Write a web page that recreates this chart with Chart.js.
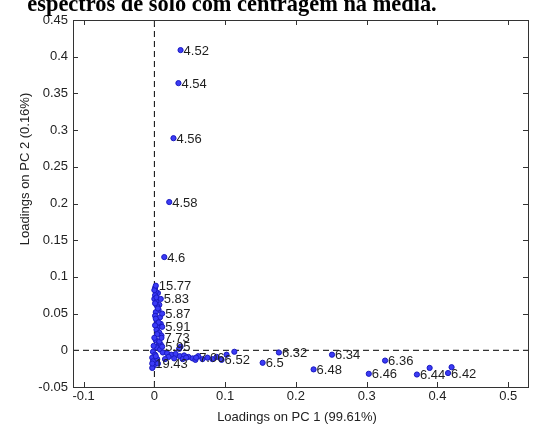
<!DOCTYPE html>
<html>
<head>
<meta charset="utf-8">
<script src="https://cdn.jsdelivr.net/npm/chart.js@4.4.0/dist/chart.umd.min.js"></script>
<style>
  html, body { margin: 0; padding: 0; background: #fff; }
  #wrap { position: relative; width: 533px; height: 426px; }
</style>
</head>
<body>
<div id="wrap"><canvas id="loadings-chart"></canvas></div>
<script>
// 제목과 축 라벨
const titleText = 'espectros de solo com centragem na média.';
const xTitle = 'Loadings on PC 1 (99.61%)';
const yTitle = 'Loadings on PC 2 (0.16%)';

// 눈금
const xTicks = [-0.1, 0, 0.1, 0.2, 0.3, 0.4, 0.5];
const yTicks = [-0.05, 0, 0.05, 0.1, 0.15, 0.2, 0.25, 0.3, 0.35, 0.4, 0.45];

// 라벨이 붙은 점 (파장)
const labeledNames = ['4.52', '4.54', '4.56', '4.58', '4.6', '15.77', '5.83', '5.87', '5.91', '7.73', '5.95',
  '19.43', '7.06', '6.52', '6.5', '6.32', '6.48', '6.34', '6.46', '6.36', '6.44', '6.42'];
const labeledX = [0.037, 0.034, 0.027, 0.021, 0.014, 0.002, 0.009, 0.011, 0.011, 0.010, 0.011,
  -0.003, 0.059, 0.095, 0.153, 0.176, 0.225, 0.251, 0.303, 0.326, 0.371, 0.415];
const labeledY = [0.409, 0.364, 0.289, 0.202, 0.127, 0.088, 0.070, 0.050, 0.032, 0.017, 0.005,
  -0.018, -0.010, -0.013, -0.017, -0.003, -0.026, -0.006, -0.032, -0.014, -0.033, -0.031];

// 라벨 없는 점 (원점 근처 덩어리)
const clusterX = [0.001, 0.005, 0.002, 0.001, 0.000, 0.003, 0.007, 0.004, 0.006, 0.002, 0.001, 0.008,
  0.004, 0.009, 0.005, 0.003, 0.007, 0.010, 0.002, 0.006, 0.009, 0.003, 0.008, -0.002, 0.001, -0.003,
  0.004, -0.002, -0.001, -0.003, 0.037, 0.012, 0.018, 0.024, 0.030, 0.035, 0.036, 0.042, 0.048, 0.054,
  0.062, 0.068, 0.075, 0.082, 0.088, 0.020, 0.028, 0.015, 0.040, 0.102, 0.113, 0.389, 0.420,
  0.000, 0.003, 0.001, 0.005, 0.002, 0.006, 0.001, 0.004, 0.000, 0.007, -0.001, 0.002, 0.005, 0.045, 0.058];
const clusterY = [0.085, 0.078, 0.080, 0.075, 0.070, 0.066, 0.062, 0.060, 0.055, 0.052, 0.047, 0.045,
  0.040, 0.036, 0.031, 0.028, 0.024, 0.020, 0.014, 0.010, 0.008, 0.004, 0.001, -0.002, -0.006, -0.010,
  -0.012, -0.015, -0.021, -0.024, 0.005, -0.003, -0.004, -0.006, -0.005, 0.002, -0.008, -0.007, -0.009, -0.011,
  -0.008, -0.012, -0.010, -0.012, -0.009, -0.009, -0.011, -0.012, -0.012, -0.006, -0.002, -0.024, -0.023,
  0.082, 0.072, 0.064, 0.057, 0.043, 0.038, 0.034, 0.022, 0.017, 0.012, 0.006, -0.008, -0.018, -0.010, -0.013];

const xMin = -0.115, xMax = 0.528;
const yMin = -0.05, yMax = 0.45;

const pts = (xs, ys) => xs.map((x, i) => ({ x: x, y: ys[i] }));

// 점 옆에 파장 라벨 그리기
const pointLabelPlugin = {
  id: 'pointLabels',
  afterDatasetsDraw(chart) {
    const ctx = chart.ctx;
    const meta = chart.getDatasetMeta(0);
    ctx.save();
    ctx.font = '13px "Liberation Sans", Arial, sans-serif';
    ctx.fillStyle = '#1e1e1e';
    ctx.textAlign = 'left';
    ctx.textBaseline = 'middle';
    meta.data.forEach((pt, i) => {
      ctx.fillText(labeledNames[i], pt.x + 3, pt.y + 1);
    });
    ctx.restore();
  }
};

// 테두리, 안쪽 눈금, 제목
const framePlugin = {
  id: 'frame',
  afterDraw(chart) {
    const ctx = chart.ctx;
    const a = chart.chartArea;
    const xs = chart.scales.x, ys = chart.scales.y;
    ctx.save();
    ctx.strokeStyle = '#333';
    ctx.lineWidth = 1;
    ctx.strokeRect(Math.round(a.left) + 0.5, Math.round(a.top) + 0.5,
      Math.round(a.right - a.left), Math.round(a.bottom - a.top));
    ctx.beginPath();
    xTicks.forEach(v => {
      const px = Math.round(xs.getPixelForValue(v)) + 0.5;
      ctx.moveTo(px, a.bottom); ctx.lineTo(px, a.bottom - 5);
      ctx.moveTo(px, a.top); ctx.lineTo(px, a.top + 5);
    });
    yTicks.forEach(v => {
      const py = Math.round(ys.getPixelForValue(v)) + 0.5;
      ctx.moveTo(a.left, py); ctx.lineTo(a.left + 5, py);
      ctx.moveTo(a.right, py); ctx.lineTo(a.right - 5, py);
    });
    ctx.stroke();

    // 위쪽이 잘린 제목
    ctx.fillStyle = '#000';
    ctx.font = 'bold 22.4px "Liberation Serif", "Times New Roman", serif';
    ctx.textAlign = 'center';
    ctx.textBaseline = 'alphabetic';
    ctx.fillText(titleText, 232, 10.5);

    // 축 제목
    ctx.fillStyle = '#222';
    ctx.font = '13px "Liberation Sans", Arial, sans-serif';
    ctx.textBaseline = 'middle';
    ctx.fillText(xTitle, 297, 417);
    ctx.translate(25, 169);
    ctx.rotate(-Math.PI / 2);
    ctx.fillText(yTitle, 0, 0);
    ctx.restore();
  }
};

const tickFont = { family: '"Liberation Sans", Arial, sans-serif', size: 13 };
const fmt = v => String(Number(v.toFixed(2)));

const ctx = document.getElementById('loadings-chart').getContext('2d');
const chart = new Chart(ctx, {
  type: 'scatter',
  data: {
    datasets: [
      { data: pts(labeledX, labeledY), pointRadius: 2.6, backgroundColor: '#3b3bf5', borderColor: '#1a1ac0', borderWidth: 1 },
      { data: pts(clusterX, clusterY), pointRadius: 2.6, backgroundColor: '#3b3bf5', borderColor: '#1a1ac0', borderWidth: 1 },
      { data: [{ x: xMin, y: 0 }, { x: xMax, y: 0 }], showLine: true, pointRadius: 0, borderColor: '#000', borderWidth: 1, borderDash: [6, 4] },
      { data: [{ x: 0, y: yMin }, { x: 0, y: yMax }], showLine: true, pointRadius: 0, borderColor: '#000', borderWidth: 1, borderDash: [6, 4] }
    ]
  },
  options: {
    responsive: true,
    maintainAspectRatio: false,
    animation: false,
    layout: { padding: { top: 20, right: 1, left: 0, bottom: 0 } },
    plugins: {
      legend: { display: false },
      tooltip: { enabled: false }
    },
    scales: {
      x: {
        type: 'linear',
        min: xMin,
        max: xMax,
        grid: { display: false, drawTicks: false },
        border: { display: false },
        afterBuildTicks: (scale) => { scale.ticks = xTicks.map(v => ({ value: v })); },
        afterFit: (scale) => { scale.height = 39; },
        ticks: { color: '#222', font: tickFont, padding: 2, maxRotation: 0, callback: fmt }
      },
      y: {
        type: 'linear',
        min: yMin,
        max: yMax,
        grid: { display: false, drawTicks: false },
        border: { display: false },
        afterBuildTicks: (scale) => { scale.ticks = yTicks.map(v => ({ value: v })); },
        afterFit: (scale) => { scale.width = 73; },
        ticks: { color: '#222', font: tickFont, padding: 5, callback: fmt }
      }
    }
  },
  plugins: [pointLabelPlugin, framePlugin]
});
</script>
</body>
</html>
